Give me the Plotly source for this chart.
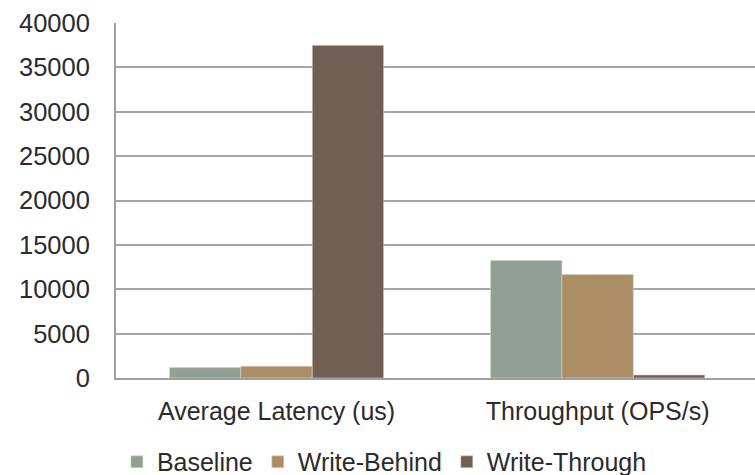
import plotly.graph_objects as go

categories = ["Average Latency (us)", "Throughput (OPS/s)"]
baseline = [1170, 13240]
write_behind = [1320, 11660]
write_through = [37480, 340]
series_names = ["Baseline", "Write-Behind", "Write-Through"]
colors = ["#919F94", "#AD8D65", "#725F53"]
y_ticks = [0, 5000, 10000, 15000, 20000, 25000, 30000, 35000, 40000]

FONT = "Liberation Sans, Arial, sans-serif"
fig = go.Figure()
for name, vals, col in zip(series_names, [baseline, write_behind, write_through], colors):
    fig.add_trace(go.Bar(x=categories, y=vals, name=name,
                         marker=dict(color=col, line=dict(color="#D8D8D0", width=0.6))))

fig.update_layout(
    width=755, height=475,
    margin=dict(l=116, r=0, t=23, b=97, autoexpand=False),
    paper_bgcolor="white", plot_bgcolor="white",
    barmode="group", bargap=0.333, bargroupgap=0,
    font=dict(family=FONT, size=25, color="#2B2B2B"),
    legend=dict(orientation="h", x=0.42, xanchor="center", y=-0.2366, yanchor="middle",
                font=dict(size=25, color="#2B2B2B"), itemwidth=30, tracegroupgap=0),
    xaxis=dict(range=[-0.5, 1.49], showgrid=False, showline=True, linecolor="#A0A0A0", linewidth=2,
               ticks="", ticklabelstandoff=10, tickfont=dict(size=25)),
    yaxis=dict(range=[0, 40000], tickvals=y_ticks, showgrid=True, gridcolor="#A6A6A6", gridwidth=1.5,
               showline=True, linecolor="#A0A0A0", linewidth=2, ticks="", ticklabelstandoff=19,
               zeroline=False, tickformat="d", tickfont=dict(size=25.5)),
)
fig.write_html("out.html")
